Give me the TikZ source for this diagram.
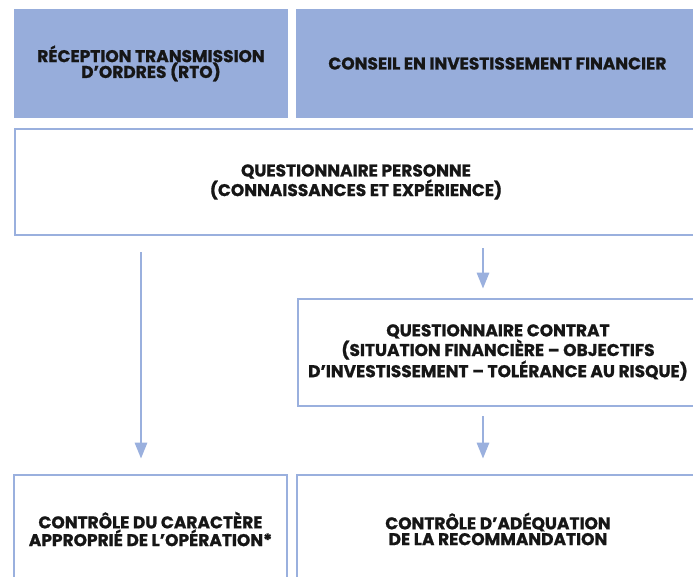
\documentclass[tikz,border=0pt]{standalone}
\usepackage{fontspec}
\setmainfont{Poppins}[BoldFeatures={FakeBold=1}]
\usetikzlibrary{positioning,arrows.meta}
\definecolor{boxblue}{HTML}{97ADDB}
\definecolor{lineblue}{HTML}{9AB0DE}
\definecolor{ink}{HTML}{161616}
\newcommand{\boxfont}{\bfseries\fontsize{17}{15.8}\selectfont}
\begin{document}
\begin{tikzpicture}[x=1pt, y=-1pt,
      head/.style = {fill=boxblue, minimum height=109pt, inner sep=0pt, align=center, text=ink, font=\boxfont},
      main/.style = {draw=lineblue, line width=2.6pt, fill=white, inner sep=0pt, align=center, text=ink, font=\boxfont},
      flow/.style = {draw=lineblue, line width=2.8pt, -{Triangle[width=12pt,length=16pt]}}]
      \useasboundingbox (0,0) rectangle (693,577);
      \clip (0,0) rectangle (693,577);

      \node[head, minimum width=274pt] (rto) at (151,63.5) {RÉCEPTION TRANSMISSION\\D’ORDRES (RTO)};
      \node[head, minimum width=402pt] (cif) [right=8pt of rto] {CONSEIL EN INVESTISSEMENT FINANCIER};
      \node[main, minimum width=682pt, minimum height=106pt] (qp) at (356,182) {QUESTIONNAIRE PERSONNE\\(CONNAISSANCES ET EXPÉRIENCE)};
      \node[main, minimum width=400pt, minimum height=107pt] (qc) at (498,352.5) {QUESTIONNAIRE CONTRAT\\(SITUATION FINANCIÈRE – OBJECTIFS\\D’INVESTISSEMENT – TOLÉRANCE AU RISQUE)};
      \node[main, minimum width=273pt, minimum height=108pt] (ca) at (150.5,529) {CONTRÔLE DU CARACTÈRE\\APPROPRIÉ DE L’OPÉRATION*};
      \node[main, minimum width=402pt, minimum height=108pt] (ar) at (498,529) {CONTRÔLE D’ADÉQUATION\\DE LA RECOMMANDATION};

      \draw[flow] ([xshift=-9.5pt]ca.north |- qp.south) ++(0,16) -- ([xshift=-9.5pt,yshift=15pt]ca.north);
      \draw[flow] ([xshift=-15pt]qc.north |- qp.south) ++(0,12) -- ([xshift=-15pt,yshift=9pt]qc.north);
      \draw[flow] ([xshift=-15pt,yshift=-9pt]qc.south) -- ([xshift=-15pt,yshift=15pt]ar.north);
\end{tikzpicture}
\end{document}
